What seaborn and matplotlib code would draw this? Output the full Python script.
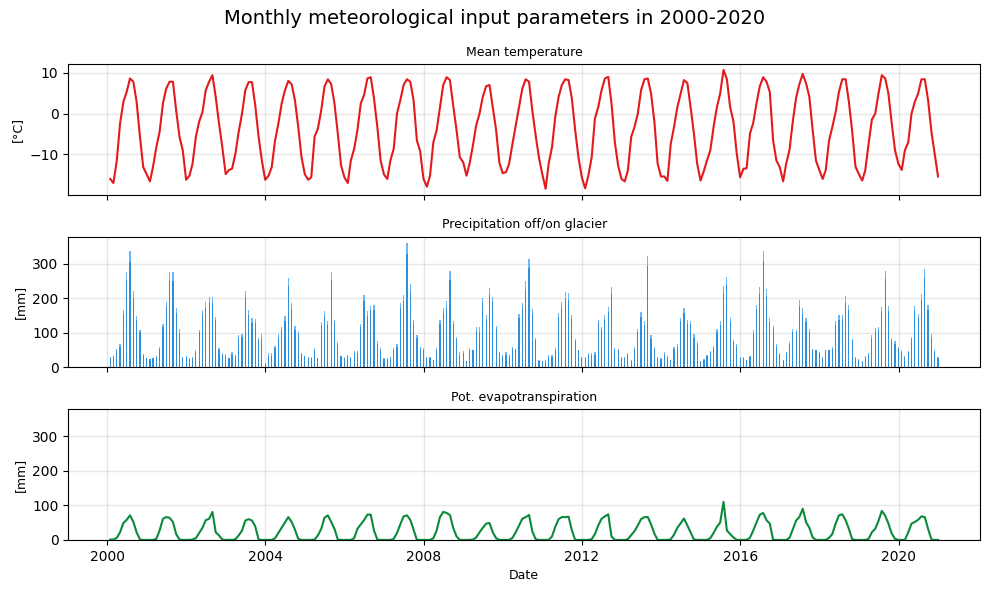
import pandas as pd
import numpy as np
import matplotlib
matplotlib.use('Agg')
import matplotlib.pyplot as plt
import seaborn as sns

# Monthly values, Jan 2000 - Dec 2020 (one row per year)
temperature = [
    -16.0, -17.0, -11.5, -2.5, 2.9, 5.3, 8.6, 7.8, 2.9, -5.7, -13.1, -14.8,
    -16.6, -13.1, -8.2, -4.5, 2.5, 6.1, 7.8, 7.8, 0.8, -5.7, -9.0, -16.2,
    -15.2, -12.3, -5.7, -2.0, 0.4, 5.7, 7.8, 9.4, 4.1, -2.5, -8.2, -14.8,
    -13.8, -13.5, -9.8, -4.5, 0.0, 5.7, 7.7, 7.7, 2.0, -5.7, -11.5, -16.2,
    -15.2, -13.1, -6.6, -2.5, 2.5, 5.7, 8.0, 7.2, 3.3, -3.3, -10.7, -14.9,
    -16.2, -15.6, -5.6, -3.7, 0.8, 6.6, 8.4, 7.2, 2.5, -4.9, -12.7, -15.6,
    -17.0, -11.5, -8.6, -4.1, 2.5, 4.5, 8.6, 8.9, 3.7, -3.3, -11.5, -14.9,
    -16.0, -11.5, -8.6, 0.0, 3.3, 7.0, 8.4, 7.8, 3.3, -6.6, -9.2, -16.0,
    -17.9, -15.2, -7.0, -4.1, 1.6, 7.0, 8.9, 8.2, 2.0, -4.1, -10.7, -11.9,
    -15.2, -12.3, -7.8, -2.9, 0.0, 4.1, 6.7, 7.0, 1.6, -4.0, -12.0, -14.6,
    -14.3, -12.3, -7.4, -2.9, 1.6, 6.1, 8.4, 7.8, 0.8, -5.3, -10.7, -14.8,
    -18.4, -12.3, -8.2, -0.8, 4.1, 7.0, 8.4, 8.2, 3.7, -4.1, -10.7, -15.6,
    -18.3, -15.2, -10.7, -1.2, 1.6, 5.7, 8.6, 9.0, 2.5, -7.0, -12.7, -16.0,
    -16.6, -13.9, -5.7, -3.3, 0.0, 5.7, 8.4, 8.6, 4.9, -2.0, -12.3, -15.4,
    -15.4, -16.5, -7.4, -3.3, 1.6, 4.9, 8.2, 7.5, 1.6, -4.9, -12.3, -16.4,
    -14.0, -11.5, -9.0, -3.3, 1.6, 4.9, 10.7, 8.4, 1.6, -2.0, -9.8, -15.6,
    -13.5, -13.4, -4.9, -2.3, 2.6, 6.7, 8.9, 7.8, 5.3, -6.6, -11.5, -13.1,
    -16.6, -12.3, -8.9, -2.0, 3.9, 7.2, 9.7, 7.4, 4.1, -4.1, -11.5, -13.8,
    -16.0, -13.9, -6.6, -3.3, 0.4, 5.3, 8.4, 8.4, 2.9, -4.5, -13.0, -14.8,
    -16.4, -13.9, -7.4, -1.5, 0.0, 4.9, 9.4, 8.6, 4.9, -2.5, -9.0, -12.3,
    -13.8, -9.0, -7.0, 0.0, 2.9, 4.9, 8.4, 8.4, 3.3, -4.5, -9.8, -15.4,
]

prcp_on_glacier = [
    31, 34, 54, 66, 165, 276, 337, 220, 148, 109, 39, 27,
    24, 27, 33, 60, 124, 188, 276, 276, 171, 110, 29, 34,
    26, 31, 49, 109, 165, 188, 203, 203, 145, 56, 40, 38,
    28, 43, 37, 92, 95, 220, 165, 142, 139, 84, 95, 11,
    40, 40, 63, 95, 116, 148, 258, 185, 118, 104, 40, 34,
    31, 31, 57, 28, 130, 162, 133, 276, 136, 72, 34, 31,
    37, 31, 46, 46, 124, 209, 162, 177, 180, 75, 57, 28,
    28, 31, 57, 66, 185, 209, 360, 241, 136, 92, 60, 57,
    31, 31, 22, 57, 136, 171, 191, 279, 133, 89, 43, 46,
    19, 57, 51, 116, 116, 200, 150, 229, 203, 118, 43, 37,
    43, 37, 60, 54, 153, 185, 250, 314, 168, 86, 22, 19,
    22, 37, 37, 57, 156, 188, 217, 214, 150, 83, 51, 31,
    31, 40, 40, 43, 136, 116, 150, 174, 232, 57, 54, 31,
    31, 40, 22, 60, 110, 159, 133, 322, 92, 60, 31, 28,
    43, 34, 22, 60, 66, 142, 171, 136, 133, 95, 72, 17,
    25, 37, 46, 63, 110, 133, 235, 261, 142, 78, 66, 31,
    31, 22, 34, 107, 180, 232, 337, 226, 142, 118, 66, 40,
    22, 43, 72, 110, 107, 194, 171, 142, 110, 54, 51, 43,
    31, 51, 51, 60, 133, 150, 150, 206, 180, 83, 31, 25,
    17, 34, 40, 92, 113, 116, 174, 279, 177, 86, 75, 60,
    49, 34, 46, 89, 177, 153, 212, 285, 180, 95, 49, 31,
]

prcp_off_glacier = [
    27, 32, 49, 58, 153, 252, 304, 199, 136, 101, 36, 26,
    23, 26, 30, 53, 116, 174, 250, 250, 156, 100, 27, 29,
    24, 28, 43, 101, 151, 172, 185, 185, 136, 51, 36, 34,
    26, 37, 34, 84, 89, 199, 150, 128, 127, 78, 83, 10,
    34, 34, 57, 86, 107, 133, 235, 169, 109, 95, 38, 32,
    28, 28, 50, 26, 122, 148, 123, 252, 127, 66, 32, 25,
    33, 28, 40, 40, 116, 191, 148, 162, 165, 66, 51, 25,
    25, 28, 51, 58, 171, 191, 328, 217, 124, 84, 55, 51,
    26, 26, 21, 51, 124, 156, 171, 252, 124, 81, 37, 40,
    18, 51, 49, 104, 103, 185, 136, 209, 188, 110, 40, 34,
    37, 34, 54, 49, 142, 171, 227, 287, 153, 78, 19, 18,
    19, 31, 31, 51, 145, 171, 197, 194, 139, 75, 49, 28,
    28, 36, 36, 37, 127, 107, 136, 159, 212, 51, 49, 28,
    28, 36, 19, 54, 101, 145, 121, 293, 83, 54, 28, 25,
    37, 31, 20, 54, 60, 133, 156, 124, 124, 86, 66, 15,
    22, 34, 43, 57, 101, 121, 215, 238, 130, 72, 60, 28,
    28, 20, 31, 95, 168, 212, 308, 206, 130, 110, 60, 37,
    20, 41, 66, 101, 101, 177, 153, 130, 101, 49, 49, 40,
    28, 49, 49, 54, 121, 136, 136, 185, 165, 78, 28, 22,
    15, 31, 37, 86, 104, 107, 159, 255, 162, 78, 66, 54,
    43, 31, 43, 81, 162, 142, 194, 258, 165, 86, 43, 28,
]

pet = [
    1, 1, 6, 22, 49, 58, 71, 52, 22, 1, 0, 0,
    0, 0, 3, 27, 61, 66, 64, 52, 17, 1, 0, 0,
    0, 1, 5, 20, 35, 57, 61, 81, 22, 13, 1, 0,
    0, 0, 2, 13, 27, 56, 60, 56, 39, 1, 0, 0,
    0, 0, 5, 20, 35, 50, 66, 52, 30, 3, 0, 0,
    0, 0, 1, 13, 32, 64, 71, 52, 32, 1, 0, 0,
    0, 0, 5, 32, 45, 57, 73, 73, 27, 1, 0, 0,
    0, 0, 3, 20, 45, 68, 71, 58, 30, 0, 0, 0,
    0, 0, 5, 27, 66, 81, 78, 72, 35, 10, 0, 0,
    0, 0, 1, 7, 22, 35, 47, 49, 22, 5, 0, 0,
    0, 0, 6, 22, 42, 61, 66, 72, 25, 2, 0, 0,
    0, 0, 10, 38, 60, 66, 66, 67, 28, 0, 0, 0,
    0, 0, 2, 17, 42, 61, 68, 74, 10, 0, 0, 0,
    0, 2, 14, 25, 42, 60, 66, 66, 45, 18, 0, 0,
    0, 0, 2, 15, 35, 48, 62, 42, 22, 1, 0, 0,
    0, 0, 5, 20, 38, 50, 110, 27, 17, 7, 0, 0,
    0, 0, 6, 27, 51, 73, 78, 57, 47, 0, 0, 0,
    0, 0, 6, 30, 56, 66, 90, 51, 35, 7, 0, 0,
    0, 0, 6, 17, 47, 71, 74, 57, 32, 2, 0, 0,
    0, 0, 3, 22, 32, 55, 84, 70, 47, 18, 3, 0,
    0, 0, 22, 47, 52, 58, 68, 66, 32, 1, 0, 0,
]

dates = pd.date_range(start='2000-01-31', periods=len(temperature), freq=pd.offsets.MonthEnd())
df = pd.DataFrame({
    'date': dates,
    'temp': temperature,
    'prcp_on': prcp_on_glacier,
    'prcp_off': prcp_off_glacier,
    'pet': pet,
})

fig, axes = plt.subplots(3, 1, figsize=(9.89, 5.92), dpi=100, sharex=True)
ax1, ax2, ax3 = axes

# Temperature
sns.lineplot(data=df, x='date', y='temp', ax=ax1, color='#e31a1c', linewidth=1.5)
ax1.set_title('Mean temperature', fontsize=9)
ax1.set_ylabel('[°C]', fontsize=9)

# Precipitation (on glacier behind, off glacier in front)
ax2.bar(df['date'], df['prcp_on'], width=11, color='#6db6f7')
ax2.bar(df['date'], df['prcp_off'], width=11, color='#2d8fdc')
ax2.set_title('Precipitation off/on glacier', fontsize=9)
ax2.set_ylabel('[mm]', fontsize=9)

# Potential evapotranspiration
sns.lineplot(data=df, x='date', y='pet', ax=ax3, color='#0a8a3a', linewidth=1.5)
ax3.set_ylim(ax2.get_ylim())
ax3.set_title('Pot. evapotranspiration', fontsize=9)
ax3.set_ylabel('[mm]', fontsize=9)
ax3.set_xlabel('Date', fontsize=9)

for ax in axes:
    ax.grid(True, alpha=0.3, linewidth=1.0)
    ax.set_axisbelow(True)
ax1.set_xlabel('')
ax2.set_xlabel('')

fig.suptitle('Monthly meteorological input parameters in 2000-2020', fontsize=14, y=0.985)
fig.subplots_adjust(left=0.069, right=0.991, top=0.892, bottom=0.088, hspace=0.32)
plt.savefig('out.png', dpi=100)
